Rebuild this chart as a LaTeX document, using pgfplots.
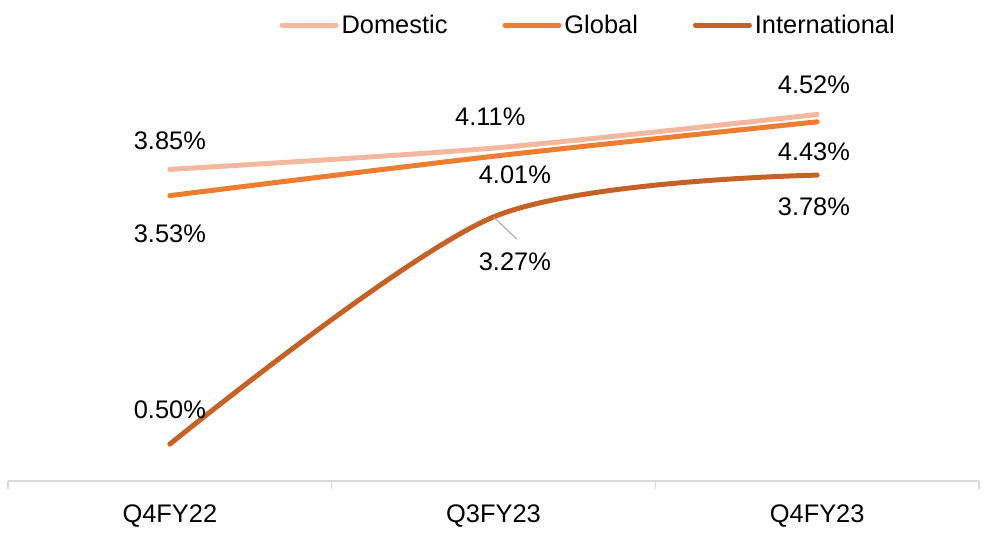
\documentclass[border=0pt]{standalone}
\usepackage{fontspec}
\setmainfont{Liberation Sans}
\usepackage{pgfplots}
\pgfplotsset{compat=1.18}

\definecolor{domc}{RGB}{244,184,160}
\definecolor{globc}{RGB}{237,125,49}
\definecolor{intc}{RGB}{196,98,40}
\definecolor{axc}{RGB}{217,217,217}

\newcommand{\lf}{\fontsize{25.5}{30}\selectfont}

\begin{document}
\begin{tikzpicture}
\begin{axis}[
  scale only axis,
  width=971bp, height=421bp,
  xmin=-0.5, xmax=2.5,
  ymin=0.05, ymax=5.184,
  axis x line*=bottom,
  axis y line=none,
  axis line style={axc, line width=1.5bp, -},
  xtick={0,1,2},
  xticklabels={Q4FY22,Q3FY23,Q4FY23},
  major tick length=0pt,
  minor xtick={-0.5,0.5,1.5,2.5},
  minor tick length=8bp,
  tick align=outside,
  minor tick style={axc, line width=1.5bp},
  xticklabel style={font=\lf, yshift=-20bp},
  clip=false,
  legend columns=-1,
  legend style={draw=none, fill=none, font=\lf, at={(0.598,1.083)}, anchor=center,
    /tikz/every even column/.append style={column sep=52bp},
    nodes={inner xsep=3bp}},
  legend image code/.code={\draw[#1, line width=5bp, line cap=round] (0bp,0bp) -- (54bp,0bp);},
  every axis plot/.append style={line width=5bp, line cap=round, smooth, no marks},
]
\addplot[domc] coordinates {(0,3.85) (1,4.11) (2,4.52)};
\addplot[globc] coordinates {(0,3.53) (1,4.01) (2,4.43)};
\addplot[intc] coordinates {(0,0.50) (1,3.27) (2,3.78)};
\legend{Domestic,Global,International}

\draw[gray!70, line width=1bp] (axis cs:1,3.27) -- (axis cs:1.072,3.0);
\node[font=\lf] at (axis cs:0,4.20) {3.85\%};
\node[font=\lf] at (axis cs:0.99,4.49) {4.11\%};
\node[font=\lf] at (axis cs:1.99,4.88) {4.52\%};
\node[font=\lf] at (axis cs:0,3.07) {3.53\%};
\node[font=\lf] at (axis cs:1.066,3.78) {4.01\%};
\node[font=\lf] at (axis cs:1.99,4.07) {4.43\%};
\node[font=\lf] at (axis cs:0,0.916) {0.50\%};
\node[font=\lf] at (axis cs:1.066,2.72) {3.27\%};
\node[font=\lf] at (axis cs:1.99,3.40) {3.78\%};
\end{axis}
\path (current axis.south west) ++(-8bp,-53bp);
\path (current axis.north east) ++(8bp,60bp);
\end{tikzpicture}
\end{document}
